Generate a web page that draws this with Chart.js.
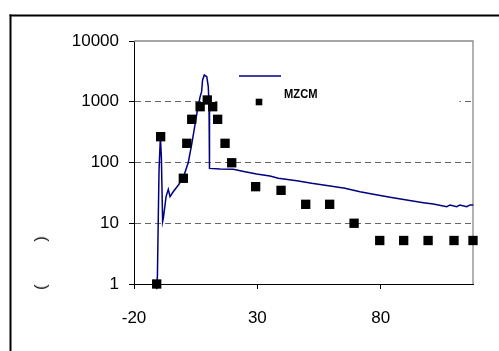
<!DOCTYPE html>
<html><head><meta charset="utf-8">
<script src="https://cdn.jsdelivr.net/npm/chart.js@4"></script>
<style>
html,body{margin:0;padding:0;background:#fff;}
#wrap{position:relative;width:499px;height:351px;overflow:hidden;}
canvas{position:absolute;left:0;top:0;}
#ytitle{position:absolute;left:41px;top:263px;transform:translate(-50%,-50%) rotate(-90deg);font:16px "Liberation Sans",Arial,sans-serif;white-space:pre;color:#000;line-height:16px;}
</style></head><body>
<div id="wrap"><canvas id="c" width="499" height="351"></canvas><div id="ytitle">(<span style="display:inline-block;width:43px"></span>)</div></div>
<script>
// line series (unnamed)
const lineX = [-10.8,-10.5,-10.15,-9.85,-9.3,-8.9,-8.4,-8.1,-7.0,-6.1,-5.4,-4.1,-2.0,0.0,2.0,3.4,4.7,5.7,6.8,7.4,7.8,8.5,9.5,10.1,10.4,10.5,10.7,14.9,20.2,25.0,29.7,35.1,38.5,46.0,52.0,59.5,65.5,71.6,77.0,83.8,90.5,97.3,101.3,106.8,108.1,110.8,112.1,114.9,116.2,117.5];
const lineY = [0.82,1.4,12.8,75,266,120,10.6,12.1,27.4,36.2,27.4,33,42.6,57,100,200,414,731,1210,1465,2280,2755,2580,1775,944,388,80,78,77.3,70.6,64.7,60.0,55.0,50.2,45.5,41.0,37.6,33.1,30.0,26.8,24.1,21.8,20.7,18.7,20.0,18.7,20.0,18.7,20.0,20.0];
// MZCM series
const markerX = [-10.8,-9.2,0.0,1.4,3.4,6.8,9.7,11.9,13.9,16.9,19.6,29.3,39.6,49.6,59.3,69.2,79.6,89.3,99.2,109.7,117.4];
const markerY = [1,266,55,207,514,829,1069,829,514,207,99,40,34.8,20.5,20.5,10,5.2,5.2,5.2,5.2,5.2];
const seriesNames = ['', 'MZCM'];
const xTicks = [-20, 30, 80];
const yTicks = [1, 10, 100, 1000, 10000];

const FONT = '"Liberation Sans", Arial, sans-serif';
const lineData = lineX.map((x,i)=>({x:x, y:lineY[i]}));
const markerData = markerX.map((x,i)=>({x:x, y:markerY[i]}));

const decor = {
  id:'decor',
  beforeDraw(chart){
    const c = chart.ctx;
    c.save();
    c.fillStyle='#fff'; c.fillRect(0,0,chart.width,chart.height);
    c.fillStyle='#000';
    c.fillRect(9.5,14.5,2,400);
    c.fillRect(9.5,14.5,600,2);
    c.restore();
  },
  beforeDatasetsDraw(chart){
    const c = chart.ctx, a = chart.chartArea;
    c.save();
    c.strokeStyle='#888'; c.lineWidth=1.3;
    c.beginPath(); c.moveTo(a.left,a.top); c.lineTo(a.right,a.top); c.lineTo(a.right,a.bottom); c.stroke();
    // legend box
    c.fillStyle='#fff'; c.fillRect(217.5,58,242,56);
    c.restore();
  },
  afterDatasetsDraw(chart){
    const c = chart.ctx;
    const ds = chart.data.datasets;
    const lineDs = ds.find(d=>d.showLine);
    const mDs = ds.find(d=>!d.showLine);
    c.save();
    c.strokeStyle = lineDs.borderColor; c.lineWidth = lineDs.borderWidth;
    c.beginPath(); c.moveTo(239,76); c.lineTo(281,76); c.stroke();
    c.fillStyle = mDs.backgroundColor;
    c.fillRect(259-3.3,102-3.3,6.6,6.6);
    c.font = 'bold 12px ' + FONT;
    c.textBaseline='middle'; c.textAlign='left';
    const w = c.measureText(mDs.label).width;
    c.translate(284,94.5); c.scale(33.5/w,1.08);
    c.fillText(mDs.label,0,0);
    c.restore();
  }
};

new Chart(document.getElementById('c'), {
  type:'scatter',
  data:{datasets:[
    {label:seriesNames[0], data:lineData, showLine:true, borderColor:'#000080', backgroundColor:'#000080', borderWidth:1.5, pointRadius:0, tension:0, clip:false, order:2},
    {label:seriesNames[1], data:markerData, showLine:false, pointStyle:'rect', pointRadius:6.6, backgroundColor:'#000', borderColor:'#000', borderWidth:0, clip:false, order:1}
  ]},
  options:{
    responsive:false, animation:false, devicePixelRatio:1,
    layout:{padding:{left:0, top:41, right:26, bottom:0}},
    plugins:{legend:{display:false}, tooltip:{enabled:false}},
    scales:{
      x:{type:'linear', min:-20, max:117.4,
        afterBuildTicks:s=>{s.ticks = xTicks.map(v=>({value:v}));},
        afterFit:s=>{s.height=67;},
        ticks:{color:'#000', font:{family:FONT,size:17}, padding:19, maxRotation:0, autoSkip:false, callback:v=>String(v)},
        grid:{drawOnChartArea:false, drawTicks:true, tickLength:5, tickColor:'#000', tickWidth:1},
        border:{color:'#000', width:1}
      },
      y:{type:'logarithmic', min:1, max:10000,
        afterBuildTicks:s=>{s.ticks = yTicks.map(v=>({value:v}));},
        afterFit:s=>{s.width=134;},
        ticks:{color:'#000', font:{family:FONT,size:17}, padding:10, autoSkip:false, callback:v=>String(v)},
        grid:{color:ctx=>{const v=ctx.tick&&ctx.tick.value; return (v===10||v===100||v===1000)?'#666':'rgba(0,0,0,0)';}, lineWidth:1, drawTicks:true, tickLength:5, tickColor:'#000', tickWidth:1},
        border:{color:'#000', width:1, dash:[6,4]}
      }
    }
  },
  plugins:[decor]
});
</script>
</body></html>
